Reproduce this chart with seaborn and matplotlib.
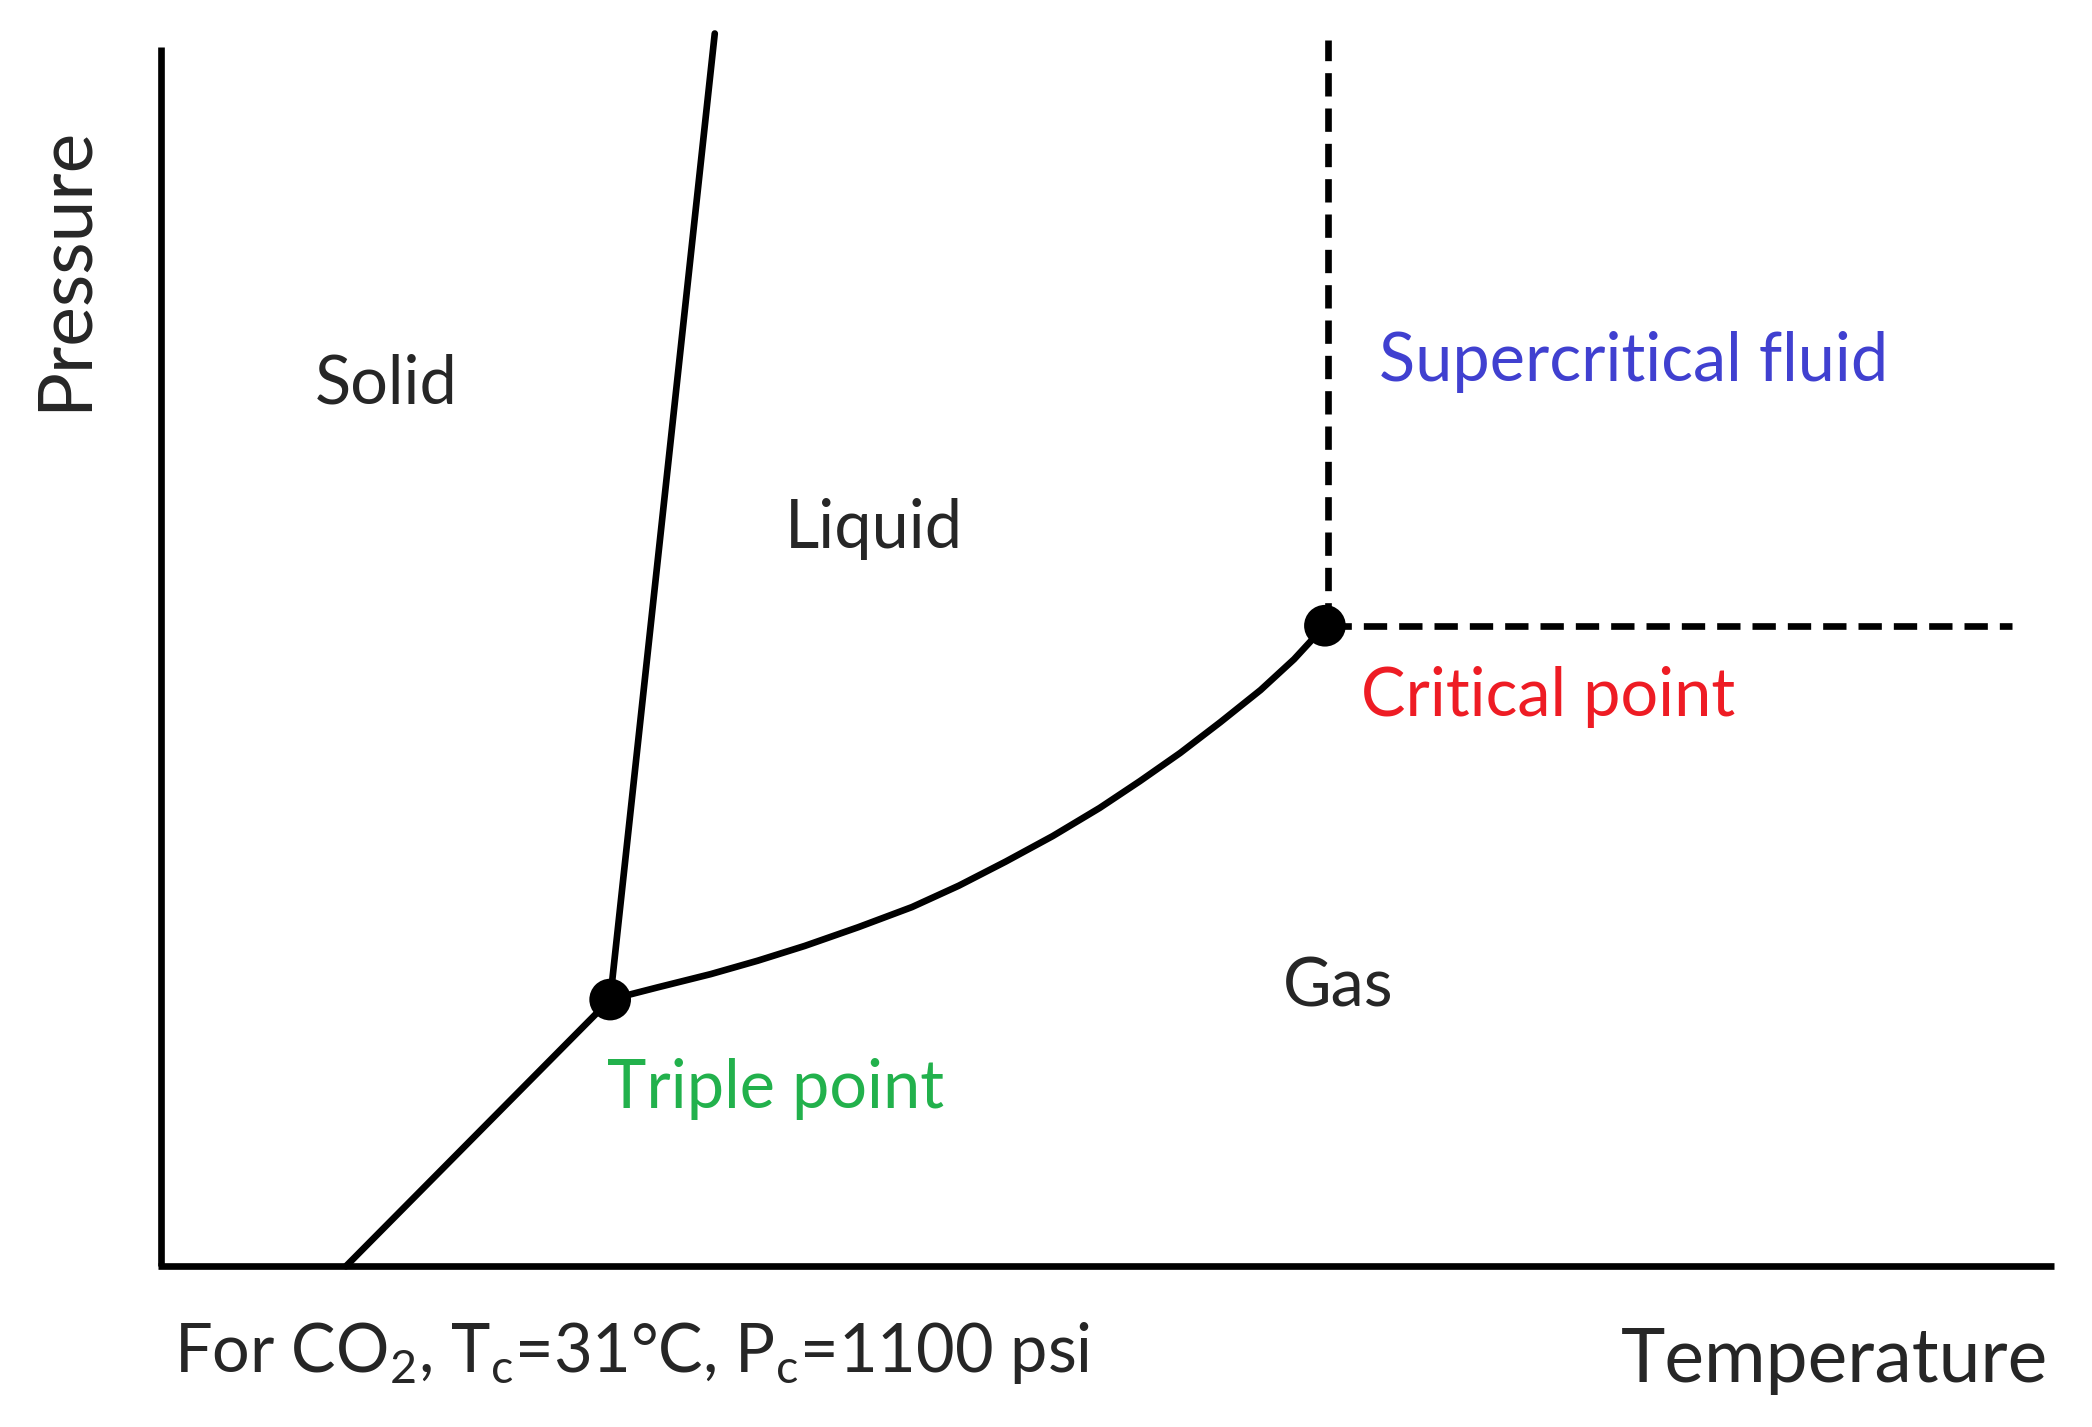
import numpy as np
import pandas as pd
import seaborn as sns
import matplotlib.pyplot as plt

sns.set_theme(style="white")
plt.rcParams['font.family'] = ['Lato', 'DejaVu Sans']
plt.rcParams['mathtext.fontset'] = 'custom'
plt.rcParams['mathtext.rm'] = 'Lato'

# Coordenadas no espaço da imagem (largura 1560, altura 1065)
subl_x = [258, 455]
subl_y = [945, 746]
fusao_x = [455, 533]
fusao_y = [746, 25]
vapor_x = [455, 490, 530, 565, 600, 640, 680, 715, 750, 785, 820, 850, 880, 910, 940, 965, 988]
vapor_y = [746, 737, 727, 717, 706, 692, 677, 661, 643, 624, 603, 583, 562, 539, 515, 492, 467]
crit_v_x = [990, 990]
crit_v_y = [467, 30]
crit_h_x = [990, 1500]
crit_h_y = [467, 467]
pontos_x = [455, 988]
pontos_y = [746, 467]

fig = plt.figure(figsize=(20.92, 14.27), dpi=100)
ax = fig.add_axes([0, 0, 1, 1])
ax.set_xlim(0, 1560)
ax.set_ylim(1065, 0)
ax.axis('off')

lw = 4.8
# eixos
ax.plot([120, 120], [35, 945], color='black', lw=lw, solid_capstyle='butt')
ax.plot([118, 1532], [945, 945], color='black', lw=lw, solid_capstyle='butt')

for xs, ys in [(subl_x, subl_y), (fusao_x, fusao_y), (vapor_x, vapor_y)]:
    sns.lineplot(x=xs, y=ys, sort=False, color='black', lw=lw, ax=ax, estimator=None)
for xs, ys in [(crit_v_x, crit_v_y), (crit_h_x, crit_h_y)]:
    ax.plot(xs, ys, color='black', lw=lw, linestyle=(0, (3.5, 1.8)))
sns.scatterplot(x=pontos_x, y=pontos_y, color='black', s=900, ax=ax, zorder=5, edgecolor='none')

fs = 48
ax.text(235, 287, 'Solid', fontsize=fs, ha='left', va='center')
ax.text(585, 395, 'Liquid', fontsize=fs, ha='left', va='center')
ax.text(957, 737, 'Gas', fontsize=fs, ha='left', va='center')
ax.text(1028, 270, 'Supercritical fluid', fontsize=fs, ha='left', va='center', color='#4040d0')
ax.text(1015, 520, 'Critical point', fontsize=fs, ha='left', va='center', color='#ee1c24')
ax.text(453, 813, 'Triple point', fontsize=fs, ha='left', va='center', color='#22b14c')
ax.text(1527, 1015, 'Temperature', fontsize=54, ha='right', va='center')
ax.text(48, 200, 'Pressure', fontsize=54, ha='center', va='center', rotation=90)
ax.text(130, 1010, r'For CO$_\mathrm{2}$, T$_\mathrm{c}$=31°C, P$_\mathrm{c}$=1100 psi', fontsize=48, ha='left', va='center')

fig.savefig('out.png', dpi=100)
